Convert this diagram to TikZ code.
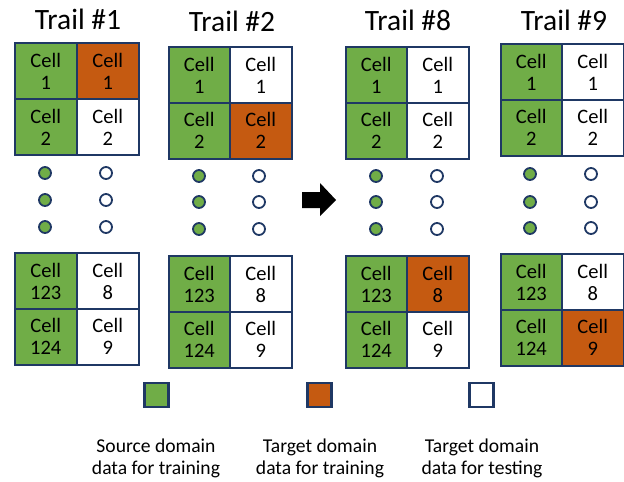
\documentclass[tikz,border=0pt]{standalone}
\usepackage{fontspec}
\setmainfont{Carlito}
\definecolor{cgreen}{HTML}{70AD47}
\definecolor{corange}{HTML}{C55A11}
\definecolor{cnavy}{HTML}{1F3864}
\begin{document}
\begin{tikzpicture}[x=1pt,y=-1pt,
  cell/.style={draw=cnavy,line width=2pt,minimum width=61.5pt,minimum height=56pt,inner sep=0pt,
     align=center,font=\fontsize{20.5}{22}\selectfont,anchor=north west},
  title/.style={font=\fontsize{29.5}{31}\selectfont},
  dot/.style={circle,draw=cnavy,line width=1.8pt,minimum size=12pt,inner sep=0pt},
  legbox/.style={draw=cnavy,line width=2.2pt,minimum size=24pt,inner sep=0pt},
  legtext/.style={align=center,font=\fontsize{19.6}{22}\selectfont}]
\useasboundingbox (0,0) rectangle (624,482);
\newcommand\mkcell[5]{\node[cell,fill=#4] (#1) at (#2,#3) {Cell\\#5};}
% Trail #1
\node[title] (t1) at (78,19) {Trail \#1};
\mkcell{a11}{14}{42}{cgreen}{1}
\mkcell{a12}{76}{42}{corange}{1}
\mkcell{a21}{14}{98}{cgreen}{2}
\mkcell{a22}{76}{98}{white}{2}
\node[dot,fill=cgreen] (ad1) at (45,173) {};
\node[dot,fill=cgreen] (ad2) at (45,200) {};
\node[dot,fill=cgreen] (ad3) at (45,227) {};
\node[dot,fill=white] (ad4) at (106,173) {};
\node[dot,fill=white] (ad5) at (106,200) {};
\node[dot,fill=white] (ad6) at (106,227) {};
\mkcell{a31}{14}{252}{cgreen}{123}
\mkcell{a32}{76}{252}{white}{8}
\mkcell{a41}{14}{307.5}{cgreen}{124}
\mkcell{a42}{76}{307.5}{white}{9}
% Trail #2
\node[title] (t2) at (232,21) {Trail \#2};
\mkcell{b11}{167.5}{46}{cgreen}{1}
\mkcell{b12}{229}{46}{white}{1}
\mkcell{b21}{167.5}{101.5}{cgreen}{2}
\mkcell{b22}{229}{101.5}{corange}{2}
\node[dot,fill=cgreen] (bd1) at (199,176) {};
\node[dot,fill=cgreen] (bd2) at (199,202) {};
\node[dot,fill=cgreen] (bd3) at (199,229) {};
\node[dot,fill=white] (bd4) at (259,176) {};
\node[dot,fill=white] (bd5) at (259,202) {};
\node[dot,fill=white] (bd6) at (259,229) {};
\mkcell{b31}{167.5}{255}{cgreen}{123}
\mkcell{b32}{229}{255}{white}{8}
\mkcell{b41}{167.5}{310.5}{cgreen}{124}
\mkcell{b42}{229}{310.5}{white}{9}
% arrow
\fill[black] (302,192) -- (320,192) -- (320,183) -- (336,200) -- (320,216) -- (320,208) -- (302,208) -- cycle;
% Trail #8
\node[title] (t8) at (408,20) {Trail \#8};
\mkcell{c11}{344.5}{46}{cgreen}{1}
\mkcell{c12}{406}{46}{white}{1}
\mkcell{c21}{344.5}{101.5}{cgreen}{2}
\mkcell{c22}{406}{101.5}{white}{2}
\node[dot,fill=cgreen] (cd1) at (376,176) {};
\node[dot,fill=cgreen] (cd2) at (376,202) {};
\node[dot,fill=cgreen] (cd3) at (376,229) {};
\node[dot,fill=white] (cd4) at (437,176) {};
\node[dot,fill=white] (cd5) at (437,202) {};
\node[dot,fill=white] (cd6) at (437,229) {};
\mkcell{c31}{344.5}{255}{cgreen}{123}
\mkcell{c32}{406}{255}{corange}{8}
\mkcell{c41}{344.5}{310.5}{cgreen}{124}
\mkcell{c42}{406}{310.5}{white}{9}
% Trail #9
\node[title] (t9) at (564,20) {Trail \#9};
\mkcell{d11}{499.5}{43}{cgreen}{1}
\mkcell{d12}{561}{43}{white}{1}
\mkcell{d21}{499.5}{98.5}{cgreen}{2}
\mkcell{d22}{561}{98.5}{white}{2}
\node[dot,fill=cgreen] (dd1) at (530,174) {};
\node[dot,fill=cgreen] (dd2) at (530,202) {};
\node[dot,fill=cgreen] (dd3) at (530,228) {};
\node[dot,fill=white] (dd4) at (591,174) {};
\node[dot,fill=white] (dd5) at (591,202) {};
\node[dot,fill=white] (dd6) at (591,228) {};
\mkcell{d31}{499.5}{253}{cgreen}{123}
\mkcell{d32}{561}{253}{white}{8}
\mkcell{d41}{499.5}{308.5}{cgreen}{124}
\mkcell{d42}{561}{308.5}{corange}{9}
% legend
\node[legbox,fill=cgreen] (l1) at (156.5,395) {};
\node[legbox,fill=corange] (l2) at (319.5,395) {};
\node[legbox,fill=white] (l3) at (481.5,395) {};
\node[legtext] (lt1) at (156,458) {Source domain\\data for training};
\node[legtext] (lt2) at (320,458) {Target domain\\data for training};
\node[legtext] (lt3) at (482,458) {Target domain\\data for testing};
\end{tikzpicture}
\end{document}
